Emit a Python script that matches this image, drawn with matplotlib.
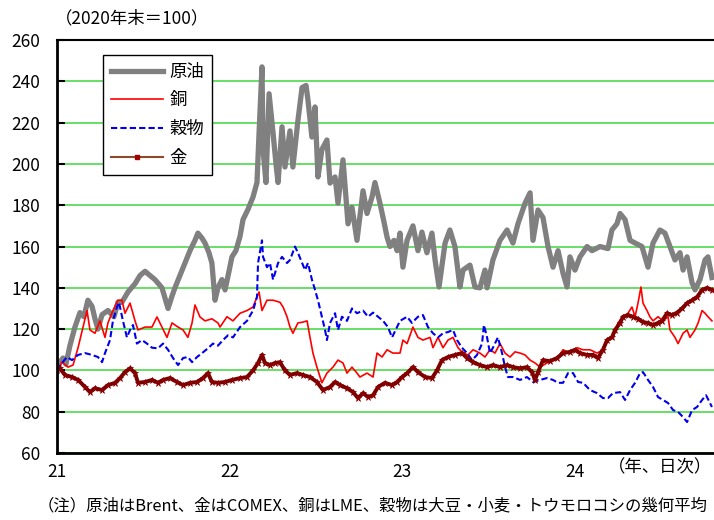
import matplotlib

matplotlib.use("Agg")
import matplotlib.pyplot as plt
from matplotlib.lines import Line2D

plt.rcParams["font.family"] = ["Noto Sans CJK JP", "DejaVu Sans"]

# time axis is in "YY" years: 21.0 = start of 2021
oil_t = [21.000, 21.017, 21.035, 21.052, 21.075, 21.104, 21.133, 21.156, 21.179, 21.203,
         21.220, 21.237, 21.261, 21.295, 21.330, 21.353, 21.376, 21.411, 21.452, 21.481,
         21.510, 21.538, 21.567, 21.608, 21.643, 21.666, 21.683, 21.712, 21.741, 21.770,
         21.799, 21.816, 21.840, 21.857, 21.880, 21.897, 21.915, 21.932, 21.955, 21.973,
         21.996, 22.013, 22.036, 22.060, 22.077, 22.106, 22.135, 22.158, 22.170, 22.187,
         22.193, 22.210, 22.228, 22.251, 22.268, 22.280, 22.303, 22.320, 22.349, 22.366,
         22.395, 22.419, 22.442, 22.453, 22.476, 22.494, 22.511, 22.534, 22.563, 22.581,
         22.610, 22.627, 22.656, 22.685, 22.708, 22.737, 22.772, 22.795, 22.824, 22.841,
         22.870, 22.893, 22.911, 22.928, 22.951, 22.969, 22.986, 23.003, 23.027, 23.061,
         23.090, 23.113, 23.142, 23.171, 23.189, 23.212, 23.247, 23.275, 23.304, 23.333,
         23.351, 23.391, 23.420, 23.449, 23.478, 23.490, 23.524, 23.565, 23.606, 23.640,
         23.669, 23.710, 23.739, 23.756, 23.785, 23.814, 23.843, 23.872, 23.901, 23.930,
         23.953, 23.970, 23.999, 24.028, 24.069, 24.098, 24.144, 24.190, 24.213, 24.242,
         24.260, 24.289, 24.318, 24.347, 24.387, 24.422, 24.451, 24.491, 24.520, 24.549,
         24.578, 24.607, 24.625, 24.648, 24.677, 24.694, 24.723, 24.752, 24.769, 24.792]
oil_v = [100, 104, 106, 103, 112, 121, 128, 126, 134, 131,
         125, 120, 127, 129, 126, 133, 133, 138, 142, 146,
         148, 146, 144, 140, 130, 136, 140, 146, 152, 158,
         163, 166.5, 164, 161.7, 157, 152, 134, 140, 144, 139,
         148, 155, 158, 165, 173, 178, 184, 191, 215, 247,
         207, 191, 234, 215, 200, 191, 218, 198.5, 216, 198.5,
         221, 237, 238, 231, 213, 227.6, 193.7, 207, 211.6, 190.7,
         193.7, 181, 202, 171, 179, 163, 187, 176, 184, 191,
         181, 172, 164.6, 160, 163, 158, 166.5, 150, 163, 170,
         158, 167, 157, 166.5, 153.5, 140.4, 161.7, 168, 160, 140.4,
         148.6, 151, 140.4, 140, 148.6, 140, 153.5, 163, 168, 161.7,
         171, 181, 186, 163, 177.7, 174, 160, 150, 158, 147,
         140.4, 155, 148.6, 155, 160, 158, 160, 159, 168, 171,
         176, 173, 163, 161.7, 160, 150, 161.7, 168, 166.5, 160,
         153.5, 157, 148.6, 155, 142.4, 139, 144, 153.5, 155, 145]

copper_t = [21.000, 21.029, 21.064, 21.093, 21.122, 21.151, 21.174, 21.191, 21.220, 21.249,
            21.278, 21.295, 21.324, 21.353, 21.376, 21.394, 21.423, 21.452, 21.469, 21.510,
            21.550, 21.579, 21.608, 21.637, 21.666, 21.701, 21.730, 21.758, 21.782, 21.799,
            21.828, 21.857, 21.897, 21.932, 21.944, 21.984, 22.019, 22.060, 22.100, 22.135,
            22.158, 22.170, 22.187, 22.216, 22.251, 22.291, 22.309, 22.332, 22.349, 22.366,
            22.395, 22.424, 22.448, 22.465, 22.482, 22.505, 22.534, 22.563, 22.598, 22.627,
            22.656, 22.679, 22.708, 22.737, 22.754, 22.795, 22.830, 22.853, 22.882, 22.911,
            22.945, 22.986, 23.003, 23.027, 23.061, 23.090, 23.119, 23.160, 23.177, 23.206,
            23.235, 23.264, 23.293, 23.322, 23.351, 23.380, 23.409, 23.449, 23.478, 23.507,
            23.536, 23.565, 23.594, 23.623, 23.652, 23.681, 23.710, 23.739, 23.768, 23.797,
            23.837, 23.872, 23.901, 23.930, 23.970, 24.011, 24.046, 24.086, 24.127, 24.161,
            24.190, 24.219, 24.248, 24.277, 24.306, 24.329, 24.347, 24.364, 24.381, 24.393,
            24.416, 24.433, 24.451, 24.480, 24.509, 24.538, 24.549, 24.578, 24.596, 24.625,
            24.648, 24.665, 24.694, 24.712, 24.735, 24.752, 24.769, 24.792]
copper_v = [100, 104, 101.6, 102.6, 111, 121, 129, 119.6, 118, 124,
            116, 123, 129, 134, 134, 127.7, 132.6, 124, 119.6, 121,
            121, 125.9, 121, 116, 123, 121, 119.6, 116, 123, 131.7,
            125.9, 124, 125, 123, 121, 126, 124, 127.7, 129, 130.7,
            135.6, 138, 129, 134, 134, 133, 130.7, 126, 121, 118,
            123, 123.4, 124, 116, 108.4, 101.6, 94, 98.7, 101.6, 105,
            103.6, 98.7, 101.6, 98.7, 96.8, 98.7, 96.8, 108.4, 106.5, 110,
            108.4, 108.4, 114.7, 113, 121, 116, 114.7, 116, 111, 116,
            111, 114.7, 116, 111, 108.4, 107.5, 110, 108.4, 106.5, 110,
            108.4, 113, 108.4, 106.5, 109, 108.4, 107.5, 105, 103.6, 101.6,
            103.6, 105, 106.5, 110, 108.4, 111, 110, 110, 108.4, 110,
            114.7, 116, 123, 126, 127.7, 130.7, 126, 132.6, 140.4, 132.6,
            129, 126, 124, 126, 124, 126, 119.6, 116, 113, 118,
            119.6, 116, 119.6, 123, 129, 127.7, 126, 124]

grain_t = [21.000, 21.029, 21.058, 21.087, 21.122, 21.162, 21.203, 21.237, 21.261, 21.278,
           21.307, 21.324, 21.347, 21.359, 21.382, 21.405, 21.423, 21.440, 21.463, 21.492,
           21.521, 21.550, 21.585, 21.614, 21.643, 21.672, 21.701, 21.730, 21.758, 21.782,
           21.811, 21.840, 21.874, 21.903, 21.932, 21.961, 21.990, 22.019, 22.060, 22.100,
           22.135, 22.158, 22.164, 22.187, 22.193, 22.216, 22.233, 22.251, 22.280, 22.303,
           22.332, 22.349, 22.378, 22.395, 22.419, 22.436, 22.453, 22.476, 22.494, 22.511,
           22.534, 22.552, 22.563, 22.581, 22.610, 22.627, 22.650, 22.679, 22.708, 22.737,
           22.772, 22.801, 22.830, 22.859, 22.888, 22.916, 22.940, 22.969, 22.986, 23.027,
           23.055, 23.090, 23.119, 23.148, 23.177, 23.206, 23.235, 23.264, 23.293, 23.316,
           23.345, 23.374, 23.403, 23.432, 23.461, 23.472, 23.490, 23.507, 23.524, 23.553,
           23.577, 23.594, 23.611, 23.640, 23.681, 23.721, 23.756, 23.797, 23.837, 23.872,
           23.901, 23.930, 23.959, 23.988, 24.017, 24.046, 24.086, 24.127, 24.161, 24.190,
           24.219, 24.260, 24.289, 24.318, 24.347, 24.376, 24.393, 24.422, 24.451, 24.480,
           24.509, 24.538, 24.567, 24.596, 24.625, 24.648, 24.677, 24.706, 24.735, 24.758,
           24.781, 24.792]
grain_v = [100, 103.6, 106.5, 105, 107.5, 108.4, 107.5, 106.5, 104, 108.4,
           114.7, 124, 130.7, 133, 124, 116, 119.6, 122, 113, 114.7,
           113, 111, 110.7, 113, 110, 106, 102.6, 106, 106.5, 104,
           106.5, 108.4, 110.7, 113, 112, 114.7, 117, 116, 121, 124,
           129, 135.6, 152, 163, 155, 150, 152, 144, 152, 155,
           152, 153.5, 160, 157, 152, 148.6, 152, 144, 139, 134,
           126, 119.6, 114.7, 123, 127.7, 119.6, 126, 124, 130, 127.7,
           129, 126, 128, 126, 124, 121, 116, 121, 124, 126,
           123, 126, 126.8, 121, 118, 116, 118, 118.6, 119.6, 114.7,
           111, 108.4, 105, 107.5, 113, 122, 116, 108.4, 111, 116,
           108.4, 101.6, 96.8, 96.8, 95.4, 96.8, 94.4, 95.4, 96.3, 95.4,
           94, 94, 98.7, 98.7, 94.4, 94, 90.5, 89, 86.6, 86.6,
           89, 89.5, 85.7, 90.5, 94, 98.7, 99.2, 95.4, 92, 87.1,
           85.7, 84.2, 80.8, 79.9, 77.4, 75, 80.8, 82.3, 85.7, 88,
           84.2, 82.3]

gold_t = [21.000, 21.017, 21.046, 21.087, 21.122, 21.162, 21.191, 21.220, 21.261, 21.295,
          21.336, 21.365, 21.394, 21.423, 21.452, 21.469, 21.510, 21.550, 21.585, 21.614,
          21.654, 21.695, 21.730, 21.770, 21.811, 21.845, 21.874, 21.897, 21.932, 21.973,
          22.013, 22.060, 22.100, 22.135, 22.164, 22.187, 22.204, 22.233, 22.262, 22.291,
          22.320, 22.349, 22.389, 22.424, 22.465, 22.505, 22.540, 22.581, 22.610, 22.639,
          22.679, 22.714, 22.743, 22.772, 22.801, 22.830, 22.859, 22.899, 22.940, 22.969,
          22.998, 23.027, 23.061, 23.090, 23.131, 23.171, 23.200, 23.229, 23.264, 23.304,
          23.345, 23.374, 23.409, 23.449, 23.490, 23.524, 23.565, 23.606, 23.640, 23.681,
          23.721, 23.750, 23.768, 23.785, 23.814, 23.854, 23.895, 23.930, 23.970, 23.999,
          24.028, 24.069, 24.103, 24.132, 24.161, 24.185, 24.213, 24.231, 24.260, 24.277,
          24.306, 24.335, 24.364, 24.393, 24.422, 24.451, 24.480, 24.503, 24.532, 24.561,
          24.590, 24.619, 24.648, 24.677, 24.706, 24.735, 24.764, 24.792]
gold_v = [100, 101, 97.8, 96.8, 95.4, 92, 89.5, 91.4, 90.5, 92.9,
          94, 96.3, 99.2, 101, 98.7, 94, 94.4, 95.4, 94, 95.4,
          96.3, 94.4, 92.9, 94, 94.4, 96.3, 98.7, 94.4, 94, 94.4,
          95.4, 96.3, 96.8, 100, 103.6, 107.5, 103.6, 102.6, 103.6, 104,
          100, 97.8, 98.7, 97.8, 96.8, 94.4, 90.5, 92, 94.4, 92.9,
          91.4, 89.5, 86.6, 89, 87.1, 88, 92, 94, 92.9, 94.4,
          96.8, 98.7, 101.6, 99.2, 96.8, 96.3, 100, 105, 106.5, 107.5,
          108.4, 106, 104, 102.6, 101.6, 102.6, 101.6, 102.6, 101.6, 101,
          101.6, 99.2, 95.4, 99.2, 105, 104.5, 106, 108.4, 109, 110,
          108.4, 107.5, 107.5, 106, 110, 114.7, 116, 119.6, 123, 126,
          126.8, 126, 125, 123.4, 123, 122, 123, 124, 127.7, 126.8,
          128, 130, 132.6, 134, 135.6, 139, 140, 139]

series_names = ["原油", "銅", "穀物", "金"]
year_ticks = [21, 22, 23, 24]
year_labels = ["21", "22", "23", "24"]
y_ticks = list(range(60, 261, 20))

fig = plt.figure(figsize=(7.14, 5.2), dpi=100)
ax = fig.add_axes([0.0798, 0.1288, 0.9202, 0.7942])

ax.plot(oil_t, oil_v, color="#808080", lw=3.8, solid_joinstyle="round")
ax.plot(copper_t, copper_v, color="#ff0000", lw=1.2)
ax.plot(grain_t, grain_v, color="#0000ee", lw=1.5, dashes=(3, 1.5))
# gold: thick maroon line with star markers for the speckled edge
ax.plot(gold_t, gold_v, color="#7a0000", lw=2.8, marker="*", ms=5,
        mfc="#8b0000", mec="#8b0000", mew=0.5)

ax.set_xlim(21, 24.804)
ax.set_ylim(60, 260)
ax.set_yticks(y_ticks)
ax.set_xticks(year_ticks)
ax.set_xticklabels(year_labels)
ax.tick_params(axis="y", direction="in", length=6, width=1.5, labelsize=12.5, pad=12)
ax.tick_params(axis="x", length=0, labelsize=12.5, pad=7)
ax.grid(axis="y", color="#66e066", lw=1.4)
ax.set_axisbelow(True)

for side in ["left", "bottom"]:
    ax.spines[side].set_linewidth(2.0)
ax.spines["top"].set_linewidth(1.5)
ax.spines["right"].set_visible(False)

handles = [
    Line2D([0], [0], color="#808080", lw=3.8),
    Line2D([0], [0], color="#ff0000", lw=1.2),
    Line2D([0], [0], color="#0000ee", lw=1.5, dashes=(3, 1.5)),
    Line2D([0], [0], color="#8b4a2b", lw=1.5, marker="s", ms=3,
           mfc="#a00000", mec="#a00000"),
]
leg = ax.legend(handles, series_names, loc="upper left",
                bbox_to_anchor=(0.070, 0.964), borderaxespad=0, fontsize=12.5,
                frameon=True, fancybox=False, edgecolor="black", framealpha=1,
                handlelength=3.0, handletextpad=0.4, labelspacing=0.62,
                borderpad=0.45, numpoints=1)
leg.get_frame().set_linewidth(1.0)

fig.text(0.185, 0.965, "（2020年末＝100）", fontsize=12.5, ha="center", va="center")
fig.text(0.997, 0.102, "（年、日次）", fontsize=12.5, ha="right", va="center")
fig.text(0.052, 0.028,
         "（注）原油はBrent、金はCOMEX、銅はLME、穀物は大豆・小麦・トウモロコシの幾何平均",
         fontsize=11.8, ha="left", va="center")

fig.savefig("out.png", dpi=100)
